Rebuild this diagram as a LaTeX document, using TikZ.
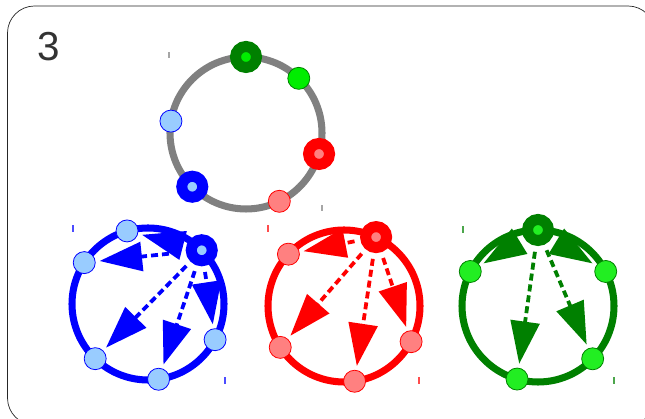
\documentclass[tikz,border=0pt]{standalone}
\usepackage{fontspec}
\setmainfont{Liberation Sans}
\usetikzlibrary{arrows.meta,calc}
\definecolor{lblue}{HTML}{99CCFF}
\definecolor{lred}{HTML}{FF8080}
\definecolor{dgreen}{HTML}{008000}
\definecolor{lgreen}{HTML}{22EE22}

\begin{document}
\begin{tikzpicture}[x=0.04cm,y=0.04cm,
    ring/.style={line width=8pt},
    hub/.style={circle,minimum size=0.84cm,inner sep=0pt,line width=12.5pt},
    spot/.style={circle,minimum size=0.88cm,inner sep=0pt,line width=0.9pt},
    link/.style={line width=4.3pt,dash pattern=on 0.28cm off 0.16cm,
      -{Triangle[length=1.7cm,width=1.15cm]},shorten <=0.24cm,shorten >=0.16cm},
    tick/.style={line width=1.6pt,opacity=0.7}]
  \useasboundingbox (0,0) rectangle (645,419);
  % frame and number
  \draw[line width=0.8pt,black!85,rounded corners=1.08cm] (7.5,413) rectangle (655,-6);
  \node[text=black!80,font=\fontsize{46}{52}\selectfont] (num) at (49,372) {3};
  % Ring with all six points
  \coordinate (G) at (246,286);
  \draw[ring,gray] (G) circle (76);
  \node[hub,draw=dgreen,fill=green!93!black] (g0) at ($(G)+(90:76)$) {};
  \node[spot,draw=dgreen,fill=green!93!black] (g1) at ($(G)+(46:76)$) {};
  \node[hub,draw=red,fill=lred] (g2) at ($(G)+(-16:76)$) {};
  \node[spot,draw=red,fill=lred] (g3) at ($(G)+(-64:76)$) {};
  \node[hub,draw=blue,fill=lblue] (g4) at ($(G)+(-135:76)$) {};
  \node[spot,draw=blue,fill=lblue] (g5) at ($(G)+(171:76)$) {};
  \draw[tick,gray] (169,361) -- ++(0,6);
  \draw[tick,gray] (322,208) -- ++(0,6);
  % Blue ring
  \coordinate (B) at (148,115);
  \draw[ring,blue] (B) circle (76);
  \node[hub,draw=blue,fill=lblue] (b0) at ($(B)+(45:76)$) {};
  \foreach \a [count=\i] in {106,147,-134,-82,-28} {
    \node[spot,draw=blue,fill=lblue] (b\i) at ($(B)+(\a:76)$) {};
    \draw[link,blue] (b0) -- (b\i);
  }
  \draw[tick,blue] (73,187) -- ++(0,7);
  \draw[tick,blue] (225,35) -- ++(0,7);
  % Red ring
  \coordinate (R) at (344,113);
  \draw[ring,red] (R) circle (76);
  \node[hub,draw=red,fill=lred] (r0) at ($(R)+(65:76)$) {};
  \foreach \a [count=\i] in {137,-147,-82,-28} {
    \node[spot,draw=red,fill=lred] (r\i) at ($(R)+(\a:76)$) {};
    \draw[link,red] (r0) -- (r\i);
  }
  \draw[tick,red] (268,187) -- ++(0,7);
  \draw[tick,red] (419,35) -- ++(0,7);
  % Green ring
  \coordinate (E) at (538,113);
  \draw[ring,dgreen] (E) circle (76);
  \node[hub,draw=dgreen,fill=lgreen] (e0) at ($(E)+(90:76)$) {};
  \foreach \a [count=\i] in {153,27,-106,-44} {
    \node[spot,draw=dgreen,fill=lgreen] (e\i) at ($(E)+(\a:76)$) {};
    \draw[link,dgreen] (e0) -- (e\i);
  }
  \draw[tick,dgreen] (463,186) -- ++(0,7);
  \draw[tick,dgreen] (614,35) -- ++(0,7);
\end{tikzpicture}
\end{document}
